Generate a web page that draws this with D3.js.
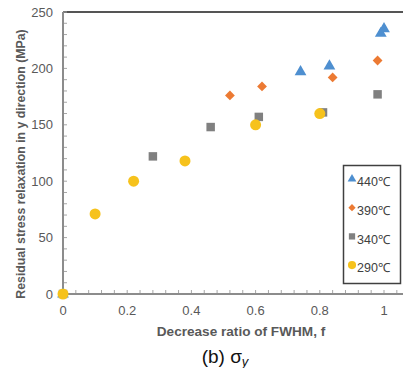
<!DOCTYPE html>
<html>
<head>
<meta charset="utf-8">
<script src="https://cdn.jsdelivr.net/npm/d3@7"></script>
<style>
  body { margin: 0; background: #fff; }
  svg { display: block; font-family: "Liberation Sans", Arial, sans-serif; }
</style>
</head>
<body>
<div id="chart"></div>
<script>
// series data: [f, stress]
var s440 = [[0, 0], [0.74, 197], [0.83, 202], [0.99, 231], [1.0, 235]];
var s390 = [[0, 0], [0.52, 176], [0.62, 184], [0.84, 192], [0.98, 207]];
var s340 = [[0, 0], [0.28, 122], [0.46, 148], [0.61, 157], [0.81, 161], [0.98, 177]];
var s290 = [[0, 0], [0.10, 71], [0.22, 100], [0.38, 118], [0.60, 150], [0.80, 160]];

var seriesNames = ['440℃', '390℃', '340℃', '290℃'];
var xTickLabels = [0, 0.2, 0.4, 0.6, 0.8, 1];
var yTickLabels = [0, 50, 100, 150, 200, 250];

var attrs = {
  svgWidth: 403,
  svgHeight: 368,
  marginLeft: 63,
  marginTop: 12,
  plotBottom: 294,
  textFill: '#595959',
  axisColor: '#8c8c8c',
  colors: ['#4e8fd0', '#ec7a33', '#808080', '#f6c21c']
};

var series = [
  { name: seriesNames[0], data: s440, shape: d3.symbolTriangle, size: 60, rot: 0, color: attrs.colors[0] },
  { name: seriesNames[1], data: s390, shape: d3.symbolSquare, size: 48, rot: 45, color: attrs.colors[1] },
  { name: seriesNames[2], data: s340, shape: d3.symbolSquare, size: 72, rot: 0, color: attrs.colors[2] },
  { name: seriesNames[3], data: s290, shape: d3.symbolCircle, size: 95, rot: 0, color: attrs.colors[3] }
];

var svg = d3.select('#chart').append('svg')
  .attr('width', attrs.svgWidth)
  .attr('height', attrs.svgHeight);

var xScale = d3.scaleLinear().domain([0, 1]).range([attrs.marginLeft, 384]);
var yScale = d3.scaleLinear().domain([0, 250]).range([attrs.plotBottom, attrs.marginTop]);

// top frame line
svg.append('line')
  .attr('x1', attrs.marginLeft).attr('x2', attrs.svgWidth)
  .attr('y1', yScale(250)).attr('y2', yScale(250))
  .attr('stroke', '#555').attr('stroke-width', 2);

// minor ticks
var xMinor = d3.range(0, 1.06, 0.04);
svg.append('g').selectAll('line').data(xMinor).enter().append('line')
  .attr('x1', d => xScale(d)).attr('x2', d => xScale(d))
  .attr('y1', attrs.plotBottom).attr('y2', attrs.plotBottom - 4)
  .attr('stroke', '#a6a6a6').attr('stroke-width', 1);

var yMinor = d3.range(0, 251, 10);
svg.append('g').selectAll('line').data(yMinor).enter().append('line')
  .attr('x1', attrs.marginLeft).attr('x2', attrs.marginLeft + 4)
  .attr('y1', d => yScale(d)).attr('y2', d => yScale(d))
  .attr('stroke', '#a6a6a6').attr('stroke-width', 1);

// axes lines
svg.append('line')
  .attr('x1', attrs.marginLeft).attr('x2', attrs.svgWidth)
  .attr('y1', attrs.plotBottom).attr('y2', attrs.plotBottom)
  .attr('stroke', attrs.axisColor).attr('stroke-width', 2);
svg.append('line')
  .attr('x1', attrs.marginLeft).attr('x2', attrs.marginLeft)
  .attr('y1', yScale(250)).attr('y2', attrs.plotBottom + 1)
  .attr('stroke', attrs.axisColor).attr('stroke-width', 2);

// tick labels
svg.append('g').selectAll('text').data(yTickLabels).enter().append('text')
  .attr('x', 53).attr('y', d => yScale(d))
  .attr('dy', '0.35em')
  .attr('text-anchor', 'end')
  .attr('font-size', 13)
  .attr('fill', attrs.textFill)
  .text(d => d);

svg.append('g').selectAll('text').data(xTickLabels).enter().append('text')
  .attr('x', d => xScale(d)).attr('y', 310)
  .attr('dy', '0.35em')
  .attr('text-anchor', 'middle')
  .attr('font-size', 13)
  .attr('fill', attrs.textFill)
  .text(d => d);

// axis titles
svg.append('text')
  .attr('transform', 'translate(21,' + 164 + ') rotate(-90)')
  .attr('text-anchor', 'middle')
  .attr('dy', '0.35em')
  .attr('font-size', 12.3)
  .attr('font-weight', 'bold')
  .attr('fill', attrs.textFill)
  .text('Residual stress relaxation in y direction (MPa)');

svg.append('text')
  .attr('x', 241).attr('y', 331)
  .attr('dy', '0.35em')
  .attr('text-anchor', 'middle')
  .attr('font-size', 13.6)
  .attr('font-weight', 'bold')
  .attr('fill', attrs.textFill)
  .text('Decrease ratio of FWHM, f');

// caption
var cap = svg.append('text')
  .attr('x', 225).attr('y', 363)
  .attr('text-anchor', 'middle')
  .attr('font-size', 19)
  .attr('fill', '#111');
cap.append('tspan').text('(b) σ');
cap.append('tspan').attr('font-size', 13).attr('font-style', 'italic').attr('dy', 3).text('y');

// points (draw 290 on top)
var order = [2, 1, 0, 3];
order.forEach(function (i) {
  var s = series[i];
  svg.append('g').selectAll('path').data(s.data).enter().append('path')
    .attr('transform', d => 'translate(' + xScale(d[0]) + ',' + yScale(d[1]) + ') rotate(' + s.rot + ')')
    .attr('d', d3.symbol().type(s.shape).size(s.size))
    .attr('fill', s.color);
});

// legend
var legend = svg.append('g');
legend.append('rect')
  .attr('x', 343.5).attr('y', 165.5)
  .attr('width', 57).attr('height', 118)
  .attr('fill', '#fff')
  .attr('stroke', '#404040').attr('stroke-width', 1.5);

var legendRows = legend.selectAll('g.row').data(series).enter().append('g')
  .attr('class', 'row')
  .attr('transform', (d, i) => 'translate(352,' + (182 + i * 28.7) + ')');
legendRows.append('path')
  .attr('d', d => d3.symbol().type(d.shape).size(d.size * 0.55)())
  .attr('transform', d => 'translate(0,-3) rotate(' + d.rot + ')')
  .attr('fill', d => d.color);
legendRows.append('text')
  .attr('x', 5).attr('y', 0)
  .attr('dy', '0.35em')
  .attr('font-size', 12.5)
  .attr('fill', '#404040')
  .text(d => d.name);
</script>
</body>
</html>
